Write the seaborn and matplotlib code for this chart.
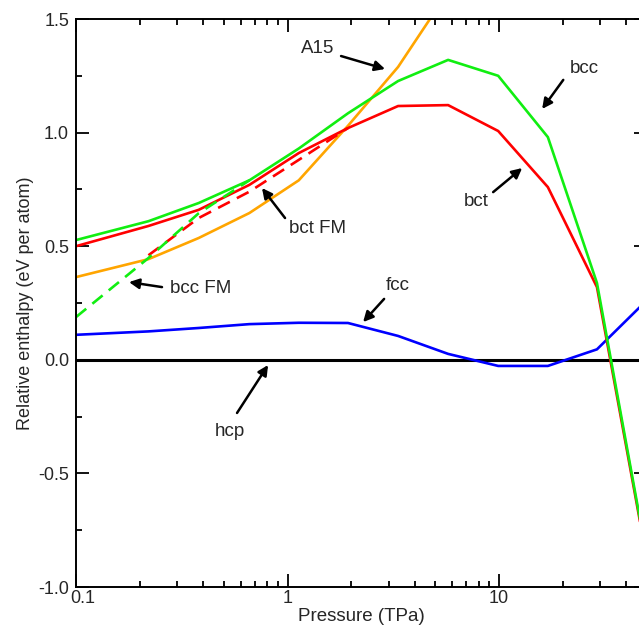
import numpy as np
import pandas as pd
import matplotlib
matplotlib.use("Agg")
import matplotlib.pyplot as plt
import matplotlib.ticker as ticker
import matplotlib.transforms as mtransforms
import seaborn as sns

# pressure grid (TPa) and relative enthalpies (eV per atom)
pressure = [0.1, 0.22, 0.38, 0.66, 1.13, 1.93, 3.33, 5.74, 9.9, 17.0, 29.0, 50.0]
bcc = [0.527, 0.61, 0.69, 0.79, 0.93, 1.085, 1.227, 1.32, 1.25, 0.98, 0.338, -0.87]
bct = [0.50, 0.589, 0.66, 0.77, 0.91, 1.02, 1.117, 1.121, 1.007, 0.76, 0.32, -0.88]
fcc = [0.11, 0.125, 0.14, 0.157, 0.163, 0.162, 0.105, 0.026, -0.027, -0.027, 0.046, 0.263]
a15 = [0.364, 0.443, 0.536, 0.646, 0.79, 1.03, 1.289, 1.62]
bcc_fm = [0.188, 0.448, 0.645, 0.79]
bct_fm_p = [0.22, 0.38, 0.66, 1.13, 1.93]
bct_fm = [0.46, 0.624, 0.74, 0.88, 1.02]
hcp_p = [0.1, 50.0]
hcp = [0.0, 0.0]

# labels: (text, text pos, arrow start, arrow tip)
labels = [
    ("A15", (1.39, 1.368), (1.79, 1.337), (2.89, 1.280)),
    ("bcc", (25.2, 1.284), (20.1, 1.232), (15.97, 1.104)),
    ("bct", (7.79, 0.695), (9.37, 0.738), (12.85, 0.844)),
    ("fcc", (3.33, 0.325), (2.86, 0.268), (2.275, 0.166)),
    ("bct FM", (1.378, 0.580), (0.973, 0.624), (0.757, 0.756)),
    ("bcc FM", (0.39, 0.312), (0.255, 0.320), (0.178, 0.342)),
    ("hcp", (0.535, -0.317), (0.577, -0.234), (0.809, -0.023)),
]

sns.set_style("ticks")
plt.rcParams["font.family"] = ["Liberation Sans", "DejaVu Sans"]
plt.rcParams["font.size"] = 13

GREEN = "#11ee11"
RED = "#ff0000"
BLUE = "#0000ff"
ORANGE = "#ffa500"
LW = 1.9
DASH = (0, (5, 3))

fig = plt.figure(figsize=(6.39, 6.32), dpi=100)
ax = fig.add_axes([76/639, 45/632, 571/639, 568/632])

sns.lineplot(x=hcp_p, y=hcp, color="k", lw=2.2, ax=ax, estimator=None, sort=False)
sns.lineplot(x=pressure[:len(a15)], y=a15, color=ORANGE, lw=LW, ax=ax, estimator=None, sort=False)
sns.lineplot(x=pressure, y=fcc, color=BLUE, lw=LW, ax=ax, estimator=None, sort=False)
sns.lineplot(x=pressure, y=bct, color=RED, lw=LW, ax=ax, estimator=None, sort=False)
sns.lineplot(x=bct_fm_p, y=bct_fm, color=RED, lw=LW, ls=DASH, ax=ax, estimator=None, sort=False)
sns.lineplot(x=pressure[:len(bcc_fm)], y=bcc_fm, color=GREEN, lw=LW, ls=DASH, ax=ax, estimator=None, sort=False)
sns.lineplot(x=pressure, y=bcc, color=GREEN, lw=LW, ax=ax, estimator=None, sort=False)

ax.set_xscale("log")
ax.set_xlim(0.1, 50)
ax.set_ylim(-1.0, 1.5)
ax.set_xticks([0.1, 1, 10])
ax.xaxis.set_major_formatter(ticker.FuncFormatter(lambda v, p: f"{v:g}"))
ax.xaxis.set_minor_locator(ticker.LogLocator(base=10, subs=np.arange(2, 10)))
ax.xaxis.set_minor_formatter(ticker.NullFormatter())
ax.yaxis.set_major_locator(ticker.MultipleLocator(0.5))
ax.yaxis.set_minor_locator(ticker.MultipleLocator(0.25))
ax.yaxis.set_major_formatter(ticker.FormatStrFormatter("%.1f"))
ax.tick_params(which="both", direction="in", top=True, right=True, width=1.3, color="k")
ax.tick_params(which="major", length=9.5, labelsize=13)
ax.tick_params(axis="x", which="major", pad=2)
ax.tick_params(axis="y", which="major", pad=5)
ax.tick_params(which="minor", length=4.5)
for s in ax.spines.values():
    s.set_linewidth(1.4)
    s.set_color("k")

# the first x label sits a little right of its tick, as in the original
fig.canvas.draw()
first = ax.get_xticklabels()[0]
first.set_transform(first.get_transform() + mtransforms.ScaledTranslation(7/100, 0, fig.dpi_scale_trans))

ax.set_xlabel("Pressure (TPa)", fontsize=13.5, labelpad=1)
ax.set_ylabel("Relative enthalpy (eV per atom)", fontsize=13, labelpad=3)

for txt, tpos, start, tip in labels:
    ax.text(tpos[0], tpos[1], txt, fontsize=13.5, ha="center", va="center")
    ax.annotate("", xy=tip, xytext=start,
                arrowprops=dict(arrowstyle="-|>", color="k", lw=1.8,
                                mutation_scale=15, shrinkA=0, shrinkB=0))

fig.savefig("out.png", dpi=100)
